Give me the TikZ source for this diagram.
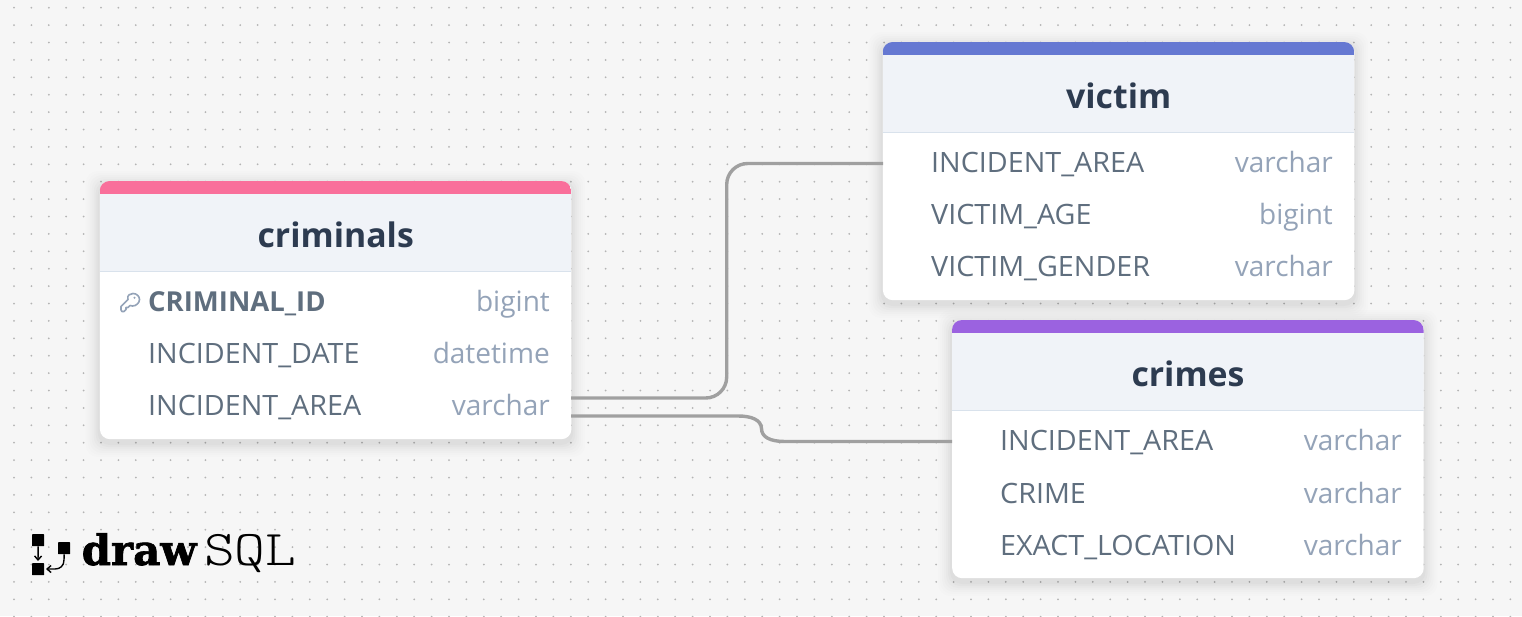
\documentclass[tikz,border=0pt]{standalone}
\usepackage{fontspec}
\setmainfont{Open Sans}
\newfontfamily\fieldfont{Open Sans}[FakeStretch=1.025]
\newfontfamily\logobold{DejaVu Serif Bold}[FakeBold=1.6]
\newfontfamily\logolight{Latin Modern Mono Light}
\usetikzlibrary{arrows.meta}
\definecolor{pagebg}{HTML}{F6F6F6}
\definecolor{griddot}{HTML}{B4B4B4}
\definecolor{headbg}{HTML}{F0F3F8}
\definecolor{headline}{HTML}{D9E2EC}
\definecolor{titleink}{HTML}{2D3B50}
\definecolor{fieldink}{HTML}{5F6E7E}
\definecolor{typeink}{HTML}{94A3B8}
\definecolor{linkink}{HTML}{A0A0A0}
\definecolor{pinkbar}{HTML}{F96F9B}
\definecolor{bluebar}{HTML}{6578D2}
\definecolor{purplebar}{HTML}{9B62E0}
\tikzset{
  tablebody/.style={fill=white,rounded corners=10pt,inner sep=0pt,anchor=north west,minimum width=471.5pt,minimum height=258pt},
  tabletitle/.style={text=titleink,anchor=base,inner sep=0pt,font=\fontsize{33.8}{34}\selectfont\bfseries},
  fieldname/.style={text=fieldink,anchor=base west,inner sep=0pt,font=\fontsize{28}{28}\selectfont\fieldfont},
  fieldkey/.style={text=fieldink,anchor=base west,inner sep=0pt,font=\fontsize{27.5}{28}\selectfont\bfseries},
  fieldtype/.style={text=typeink,anchor=base east,inner sep=0pt,font=\fontsize{28}{28}\selectfont},
  relation/.style={draw=linkink,line width=3.4pt},
  logobox/.style={fill=black,rounded corners=0.5pt,inner sep=0pt,anchor=north west},
  logolink/.style={draw=black,line width=1.4pt,-{Straight Barb[length=4pt,width=7pt]}},
}
% \dbtable{name}{x}{y}{bar colour}{title}
\newcommand{\dbtable}[5]{%
  \foreach \sh/\op in {14/0.008,12/0.008,10/0.011,8/0.013,6/0.016,4/0.018,2/0.02}{
    \fill[black,opacity=\op,rounded corners=12pt]
      (#2-\sh,#3+4-\sh) rectangle (#2+471.5+\sh,#3+258+4+\sh);
  }
  \node[tablebody] (#1) at (#2,#3) {};
  \begin{scope}
    \clip[rounded corners=10pt] (#2,#3) rectangle (#2+471.5,#3+258);
    \fill[headbg] (#2,#3+13) rectangle (#2+471.5,#3+90);
    \fill[#4] (#2,#3) rectangle (#2+471.5,#3+13);
    \draw[headline,line width=1pt] (#2,#3+90.5) -- (#2+471.5,#3+90.5);
  \end{scope}
  \node[tabletitle] (#1title) at (#2+236,#3+66.5) {#5};
}
% \dbrow{style}{id}{table x}{baseline y}{field}{type}
\newcommand{\dbrow}[6]{%
  \node[#1] (#2name) at (#3+48,#4) {#5};
  \node[fieldtype] (#2type) at (#3+450,#4) {#6};
}
\begin{document}
\begin{tikzpicture}[x=1pt,y=-1pt]
\useasboundingbox (0,0) rectangle (1522,616);
\fill[pagebg] (0,0) rectangle (1522,616);
\foreach \i in {0,...,87}{
  \foreach \j in {0,...,35}{
    \fill[griddot] ({14+17.4*\i},{7.7+17.4*\j}) circle (1pt);
  }
}
\dbtable{criminals}{99.7}{181}{pinkbar}{criminals}
\dbtable{victim}{882.7}{42}{bluebar}{victim}
\dbtable{crimes}{952}{320}{purplebar}{crimes}

\dbrow{fieldkey}{cid}{100}{311}{CRIMINAL\_ID}{bigint}
\dbrow{fieldname}{cdate}{100}{363.3}{INCIDENT\_DATE}{datetime}
\dbrow{fieldname}{carea}{100}{415.6}{INCIDENT\_AREA}{varchar}

\dbrow{fieldname}{varea}{883}{172}{INCIDENT\_AREA}{varchar}
\dbrow{fieldname}{vage}{883}{224.3}{VICTIM\_AGE}{bigint}
\dbrow{fieldname}{vgender}{883}{276.6}{VICTIM\_GENDER}{varchar}

\dbrow{fieldname}{marea}{952}{450.3}{INCIDENT\_AREA}{varchar}
\dbrow{fieldname}{mcrime}{952}{503}{CRIME}{varchar}
\dbrow{fieldname}{mloc}{952}{555}{EXACT\_LOCATION}{varchar}

% key icon
\draw[typeink,line width=1.6pt,line join=round,line cap=round]
  (121,310) -- (121,306.5) -- (128,299.5)
  .. controls (126.5,295) and (130.5,293.5) .. (133,293.5)
  .. controls (137,293.5) and (139.5,296.5) .. (139.5,299.5)
  .. controls (139.5,303) and (136,306) .. (132.5,306)
  .. controls (131.5,306) and (131,306) .. (130,305.5)
  -- (128,307.5) -- (126,307.5) -- (126,309.5) -- (124,311.5) -- (122,311.5) -- cycle;
\fill[typeink] (134.5,297.8) circle (1.1pt);

% connectors
\coordinate (linkAstart) at (571,398);
\coordinate (linkAend) at (883,163.5);
\coordinate (linkBstart) at (571,416);
\coordinate (linkBend) at (952,441.5);
\draw[relation,rounded corners=21pt] (linkAstart) -| (726.7,163.5) -- (linkAend);
\draw[relation] (linkBstart) -- (738,416)
  .. controls (752,416) and (761,420) .. (761.5,428.5)
  .. controls (761.5,437) and (770,441.5) .. (785,441.5) -- (linkBend);

% logo
\node[logobox,minimum width=12pt,minimum height=12pt] (logoa) at (32,534) {};
\node[logobox,minimum width=12pt,minimum height=12pt] (logob) at (58,542) {};
\node[logobox,minimum width=12pt,minimum height=12pt] (logoc) at (32,563) {};
\draw[logolink] (logoa.south) -- (38,561);
\draw[logolink] (logob.south) -- (64,560) .. controls (64,566) and (60,569) .. (55,569) -- (46,569);
\node[anchor=base west,inner sep=0pt,font=\fontsize{42}{42}\selectfont\logobold] (logodraw) at (81.5,565) {draw};
\node[anchor=base west,inner sep=0pt,font=\fontsize{50}{50}\selectfont\logolight] (logosql) at (204,565) {\scalebox{1.17}[1]{SQL}};
\end{tikzpicture}
\end{document}
